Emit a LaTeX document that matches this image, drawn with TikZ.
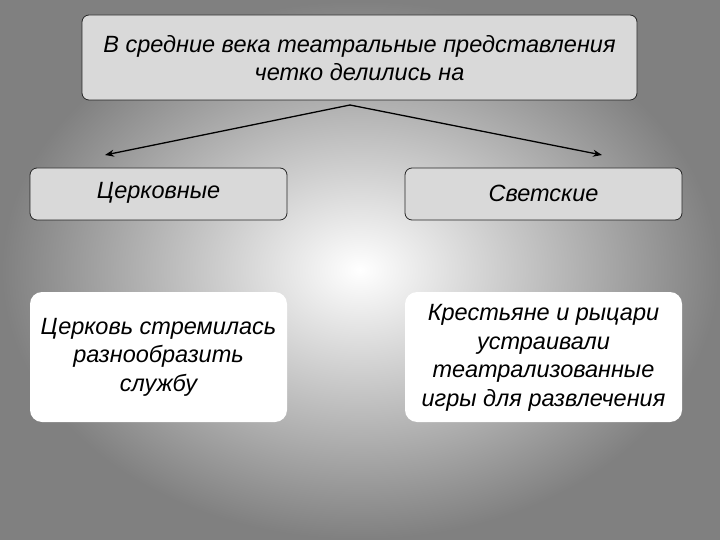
\documentclass[tikz,border=0pt]{standalone}
\usepackage{fontspec}
\setmainfont{Liberation Sans}
\usetikzlibrary{arrows.meta}
\begin{document}
\begin{tikzpicture}[x=1pt,y=-1pt,
  gbox/.style={draw=black!85,line width=0.8pt,rounded corners=7pt,fill=black!15,inner sep=0pt},
  wbox/.style={fill=white,rounded corners=12pt,inner sep=0pt},
  txt/.style={font=\itshape\fontsize{23.5}{28.5}\selectfont,align=center,text=black},
  arr/.style={-{Stealth[length=9pt,width=7pt]},line width=1.3pt}]
\useasboundingbox (0,0) rectangle (720,540);
\shade[inner color=white,outer color=black!50] (0,0) rectangle (720,540);
\draw[gbox] (82,15) rectangle (637,100);
\node[txt] (top) at (359.5,58) {В средние века театральные представления\\четко делились на};
\draw[gbox] (30,168) rectangle (287,220);
\node[txt] (l) at (158.5,193) {Церковные};
\draw[gbox] (405,168) rectangle (682,220);
\node[txt] (r) at (543.5,193) {Светские};
\fill[wbox] (30,292) rectangle (287,422);
\node[txt] (lw) at (158.5,357) {Церковь стремилась\\разнообразить\\службу};
\fill[wbox] (405,292) rectangle (682,422);
\node[txt] (rw) at (543.5,358) {Крестьяне и рыцари\\устраивали\\театрализованные\\игры для развлечения};
\coordinate (s) at (350,105);
\coordinate (a1) at (105,155);
\coordinate (a2) at (602,155);
\draw[arr] (s) -- (a1);
\draw[arr] (s) -- (a2);
\end{tikzpicture}
\end{document}
